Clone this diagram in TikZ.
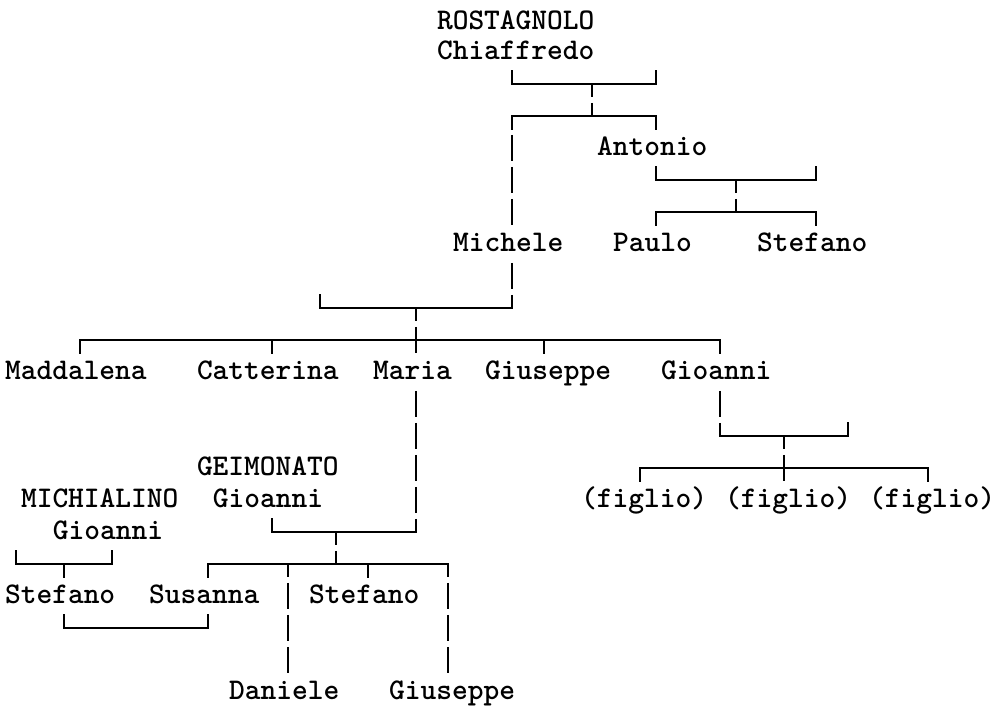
\documentclass[tikz,border=0pt]{standalone}
\newcommand\C[1]{16+16*#1}
\newcommand\R[1]{20.3+32*#1}
\newcommand\T[1]{5+16*#1}
\newcommand\B[1]{27.8+32*#1}
\tikzset{
  person/.style={anchor=base west, inner sep=0pt, outer sep=0pt,
    font=\fontsize{15.0}{18}\selectfont\ttfamily\bfseries},
  conn/.style={line width=1pt, line cap=rect, line join=miter},
  run/.style={line width=1pt, line cap=butt, dash pattern=on 13.25pt off 2.75pt, dash phase=6.75pt},
  runtop/.style={line width=1pt, line cap=butt, dash pattern=on 13.25pt off 2.75pt},
}
\begin{document}
\begin{tikzpicture}[x=0.5pt,y=-0.5pt]
\useasboundingbox (0,0) rectangle (993,706);
% people
\node[person] (rostagnolo) at (\T{27},30) {ROSTAGNOLO};
\node[person] (chiaffredo) at (\T{27},\B{1}) {Chiaffredo};
\node[person] (antonio) at (\T{37},\B{4}) {Antonio};
\node[person] (michele) at (\T{28},\B{7}) {Michele};
\node[person] (paulo) at (\T{38},\B{7}) {Paulo};
\node[person] (stefanoA) at (\T{47},\B{7}) {Stefano};
\node[person] (maddalena) at (\T{0},\B{11}) {Maddalena};
\node[person] (catterina) at (\T{12},\B{11}) {Catterina};
\node[person] (maria) at (\T{23},\B{11}) {Maria};
\node[person] (giuseppeA) at (\T{30},\B{11}) {Giuseppe};
\node[person] (gioanniA) at (\T{41},\B{11}) {Gioanni};
\node[person] (geimonato) at (\T{12},\B{14}) {GEIMONATO};
\node[person] (gioanniG) at (\T{13},\B{15}) {Gioanni};
\node[person] (michialino) at (\T{1},\B{15}) {MICHIALINO};
\node[person] (gioanniM) at (\T{3},\B{16}) {Gioanni};
\node[person] (figlioA) at (\T{36},\B{15}) {(figlio)};
\node[person] (figlioB) at (\T{45},\B{15}) {(figlio)};
\node[person] (figlioC) at (\T{54},\B{15}) {(figlio)};
\node[person] (stefanoM) at (\T{0},\B{18}) {Stefano};
\node[person] (susanna) at (\T{9},\B{18}) {Susanna};
\node[person] (stefanoG) at (\T{19},\B{18}) {Stefano};
\node[person] (daniele) at (\T{14},\B{21}) {Daniele};
\node[person] (giuseppeG) at (\T{24},\B{21}) {Giuseppe};
% Chiaffredo
\draw[conn] (\C{31},\R{2}-13.5) -- (\C{31},\R{2}) -- (\C{40},\R{2}) -- (\C{40},\R{2}-13.5);
\draw[run] (\C{36},\R{2}) -- (\C{36},\R{3});
\draw[conn] (\C{31},\R{3}+13) -- (\C{31},\R{3}) -- (\C{40},\R{3}) -- (\C{40},\R{3}+13);
\draw[run] (\C{31},\R{3}) -- (\C{31},\R{6}+13);
% Antonio
\draw[conn] (\C{40},\R{5}-13.5) -- (\C{40},\R{5}) -- (\C{50},\R{5}) -- (\C{50},\R{5}-13.5);
\draw[run] (\C{45},\R{5}) -- (\C{45},\R{6});
\draw[conn] (\C{40},\R{6}+13) -- (\C{40},\R{6}) -- (\C{50},\R{6}) -- (\C{50},\R{6}+13);
% Michele
\draw[runtop] (\C{31},\R{8}-13.5) -- (\C{31},\R{9});
\draw[conn] (\C{19},\R{9}-13.5) -- (\C{19},\R{9}) -- (\C{31},\R{9});
\draw[run] (\C{25},\R{9}) -- (\C{25},\R{10}+13);
\draw[conn] (\C{4},\R{10}+13) -- (\C{4},\R{10}) -- (\C{44},\R{10}) -- (\C{44},\R{10}+13);
\draw[conn] (\C{16},\R{10}) -- (\C{16},\R{10}+13);
\draw[conn] (\C{33},\R{10}) -- (\C{33},\R{10}+13);
% Maria & Geimonato
\draw[runtop] (\C{25},\R{12}-13.5) -- (\C{25},\R{16});
\draw[conn] (\C{16},\R{16}-13.5) -- (\C{16},\R{16}) -- (\C{25},\R{16});
\draw[run] (\C{20},\R{16}) -- (\C{20},\R{17});
\draw[conn] (\C{12},\R{17}+13) -- (\C{12},\R{17}) -- (\C{27},\R{17});
\draw[conn] (\C{22},\R{17}) -- (\C{22},\R{17}+13);
\draw[run] (\C{17},\R{17}) -- (\C{17},\R{20}+13);
\draw[run] (\C{27},\R{17}) -- (\C{27},\R{20}+13);
% Gioanni
\draw[runtop] (\C{44},\R{12}-13.5) -- (\C{44},\R{13});
\draw[conn] (\C{44},\R{13}) -- (\C{52},\R{13}) -- (\C{52},\R{13}-13.5);
\draw[run] (\C{48},\R{13}) -- (\C{48},\R{14}+13);
\draw[conn] (\C{39},\R{14}+13) -- (\C{39},\R{14}) -- (\C{57},\R{14}) -- (\C{57},\R{14}+13);
% Michialino
\draw[conn] (\C{0},\R{17}-13.5) -- (\C{0},\R{17}) -- (\C{6},\R{17}) -- (\C{6},\R{17}-13.5);
\draw[conn] (\C{3},\R{17}) -- (\C{3},\R{17}+13);
% Stefano & Susanna
\draw[conn] (\C{3},\R{19}-13.5) -- (\C{3},\R{19}) -- (\C{12},\R{19}) -- (\C{12},\R{19}-13.5);
\end{tikzpicture}
\end{document}
